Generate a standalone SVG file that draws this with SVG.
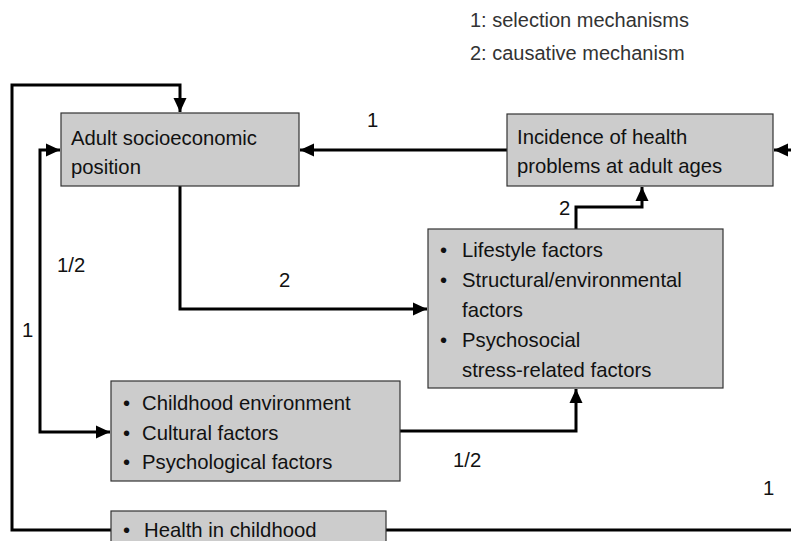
<svg xmlns="http://www.w3.org/2000/svg" width="791" height="541" viewBox="0 0 791 541">
<style>
.box{fill:#cccccc;stroke:#333333;stroke-width:1.2}
.t{font-family:"Liberation Sans",Arial,sans-serif;font-size:20.3px;fill:#111111}
.lg{font-family:"Liberation Sans",Arial,sans-serif;font-size:20px;fill:#333333}
.c{fill:none;stroke:#000000;stroke-width:3;stroke-linejoin:miter}
</style>
<defs>
<marker id="ah" markerUnits="userSpaceOnUse" markerWidth="14" markerHeight="14" viewBox="0 0 14 14" refX="14" refY="7" orient="auto-start-reverse">
<path d="M0,0.5 L14,7 L0,13.5 Z" fill="#000000"/>
</marker>
</defs>
<rect width="791" height="541" fill="#ffffff"/>
<g id="legend">
<text class="lg" x="470" y="27">1: selection mechanisms</text>
<text class="lg" x="470" y="60">2: causative mechanism</text>
</g>
<g id="connectors">
<path class="c" d="M111,530 H12 V85 H180 V112" marker-end="url(#ah)"/>
<path class="c" d="M60,150 H40 V432 H110" marker-start="url(#ah)" marker-end="url(#ah)"/>
<path class="c" d="M507,150 H300" marker-end="url(#ah)"/>
<path class="c" d="M386,530 H791"/>
<path class="c" d="M791,150 H774" marker-end="url(#ah)"/>
<path class="c" d="M180,186 V309 H427" marker-end="url(#ah)"/>
<path class="c" d="M576,229 V207 H642 V187" marker-end="url(#ah)"/>
<path class="c" d="M400,431 H576 V389" marker-end="url(#ah)"/>
<text class="t" x="367" y="127">1</text>
<text class="t" x="559" y="215">2</text>
<text class="t" x="57" y="272">1/2</text>
<text class="t" x="279" y="287">2</text>
<text class="t" x="22" y="337">1</text>
<text class="t" x="453" y="467">1/2</text>
<text class="t" x="763" y="495">1</text>
</g>
<g id="adult">
<rect class="box" x="61" y="113" width="238" height="73"/>
<text class="t" x="71" y="145">Adult socioeconomic</text>
<text class="t" x="71" y="174">position</text>
</g>
<g id="incidence">
<rect class="box" x="507" y="114" width="266" height="72"/>
<text class="t" x="517" y="144">Incidence of health</text>
<text class="t" x="517" y="173">problems at adult ages</text>
</g>
<g id="lifestyle">
<rect class="box" x="428" y="229" width="295" height="159"/>
<text class="t" x="440" y="257">•</text>
<text class="t" x="462" y="257">Lifestyle factors</text>
<text class="t" x="440" y="287">•</text>
<text class="t" x="462" y="287">Structural/environmental</text>
<text class="t" x="462" y="317">factors</text>
<text class="t" x="440" y="347">•</text>
<text class="t" x="462" y="347">Psychosocial</text>
<text class="t" x="462" y="377">stress-related factors</text>
</g>
<g id="childhood">
<rect class="box" x="111" y="381" width="289" height="100"/>
<text class="t" x="123" y="410">•</text>
<text class="t" x="142" y="410">Childhood environment</text>
<text class="t" x="123" y="440">•</text>
<text class="t" x="142" y="440">Cultural factors</text>
<text class="t" x="123" y="469">•</text>
<text class="t" x="142" y="469">Psychological factors</text>
</g>
<g id="health">
<rect class="box" x="111" y="511" width="275" height="40"/>
<text class="t" x="123" y="537">•</text>
<text class="t" x="144" y="537">Health in childhood</text>
</g>
</svg>
